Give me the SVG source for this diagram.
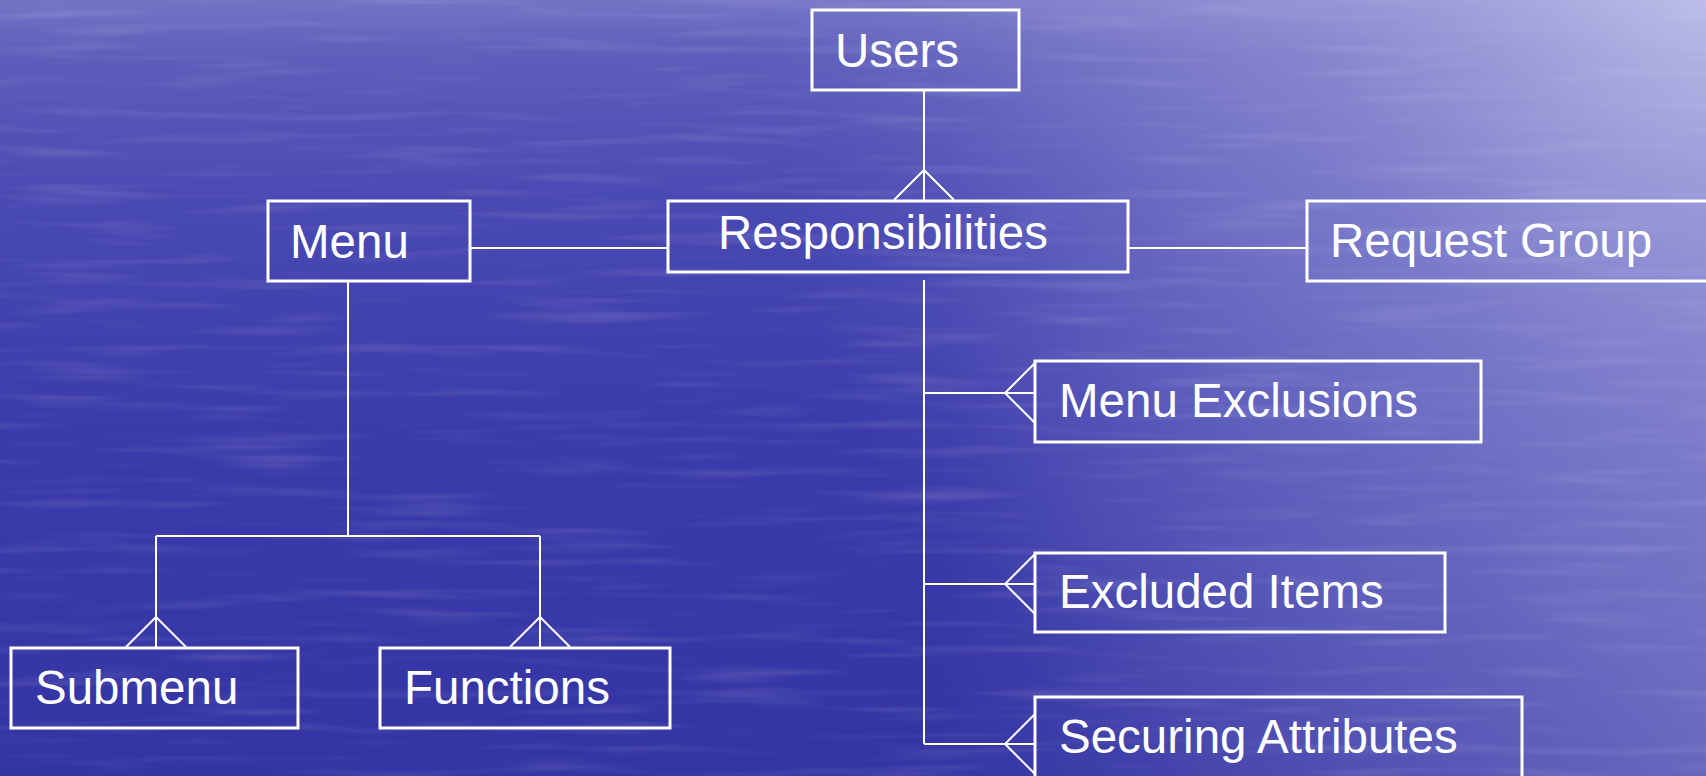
<svg xmlns="http://www.w3.org/2000/svg" width="1706" height="776" viewBox="0 0 1706 776">
<defs>
<linearGradient id="bgv" x1="0" y1="0" x2="0" y2="1">
<stop offset="0" stop-color="#7474c6"/>
<stop offset="0.07" stop-color="#5e5ebb"/>
<stop offset="0.25" stop-color="#4a4ab3"/>
<stop offset="0.55" stop-color="#3b3bab"/>
<stop offset="1" stop-color="#3434a4"/>
</linearGradient>
<linearGradient id="bgh" x1="0" y1="0" x2="1" y2="0">
<stop offset="0" stop-color="#ffffff" stop-opacity="0"/>
<stop offset="0.55" stop-color="#ffffff" stop-opacity="0"/>
<stop offset="0.85" stop-color="#c8c8f0" stop-opacity="0.18"/>
<stop offset="1" stop-color="#d0d0f4" stop-opacity="0.28"/>
</linearGradient>
<radialGradient id="bgr" cx="1706" cy="0" r="950" gradientUnits="userSpaceOnUse">
<stop offset="0" stop-color="#dcdcf6" stop-opacity="0.6"/>
<stop offset="0.4" stop-color="#c0c0ec" stop-opacity="0.3"/>
<stop offset="1" stop-color="#b0b0e8" stop-opacity="0"/>
</radialGradient>
<filter id="water" x="0" y="0" width="100%" height="100%">
<feTurbulence type="fractalNoise" baseFrequency="0.006 0.09" numOctaves="2" seed="3" result="n"/>
<feColorMatrix in="n" type="matrix" values="0 0 0 0 1  0 0 0 0 1  0 0 0 0 1  0 0 0 1.2 -0.62"/>
</filter>
<style>
.box{fill:none;stroke:#ffffff;stroke-width:3}
.ln{fill:none;stroke:#ffffff;stroke-width:2}
.t{font-family:"Liberation Sans",Arial,sans-serif;font-size:47.5px;fill:#ffffff}
</style>
</defs>
<rect width="1706" height="776" fill="url(#bgv)"/>
<rect width="1706" height="776" filter="url(#water)" opacity="0.25"/>
<rect width="1706" height="776" fill="url(#bgh)"/>
<rect width="1706" height="776" fill="url(#bgr)"/>

<g id="connectors">
<path class="ln" d="M924 90 V200 M894 200 L924 170 L954 200"/>
<path class="ln" d="M470 248 H668"/>
<path class="ln" d="M1128 248 H1307"/>
<path class="ln" d="M348 282 V536 M156 536 H540 M156 536 V647 M540 536 V647"/>
<path class="ln" d="M126 647 L156 617 L186 647 M510 647 L540 617 L570 647"/>
<path class="ln" d="M924 280 V744 M924 393 H1035 M924 584 H1035 M924 744 H1035"/>
<path class="ln" d="M1035 363 L1005 393 L1035 423 M1035 554 L1005 584 L1035 614 M1035 714 L1005 744 L1035 774"/>
</g>

<g id="users"><rect class="box" x="812" y="10" width="207" height="80"/><text class="t" x="835" y="67">Users</text></g>
<g id="menu"><rect class="box" x="268" y="201" width="202" height="80"/><text class="t" x="290" y="258">Menu</text></g>
<g id="responsibilities"><rect class="box" x="668" y="201" width="460" height="71"/><text class="t" x="718" y="249">Responsibilities</text></g>
<g id="request-group"><rect class="box" x="1307" y="201" width="410" height="80"/><text class="t" x="1330" y="257">Request Group</text></g>
<g id="menu-exclusions"><rect class="box" x="1035" y="361" width="446" height="81"/><text class="t" x="1059" y="417">Menu Exclusions</text></g>
<g id="excluded-items"><rect class="box" x="1035" y="553" width="410" height="79"/><text class="t" x="1059" y="608">Excluded Items</text></g>
<g id="securing-attributes"><rect class="box" x="1035" y="697" width="487" height="90"/><text class="t" x="1059" y="753">Securing Attributes</text></g>
<g id="submenu"><rect class="box" x="11" y="648" width="287" height="80"/><text class="t" x="35" y="704">Submenu</text></g>
<g id="functions"><rect class="box" x="380" y="648" width="290" height="80"/><text class="t" x="404" y="704">Functions</text></g>
</svg>
